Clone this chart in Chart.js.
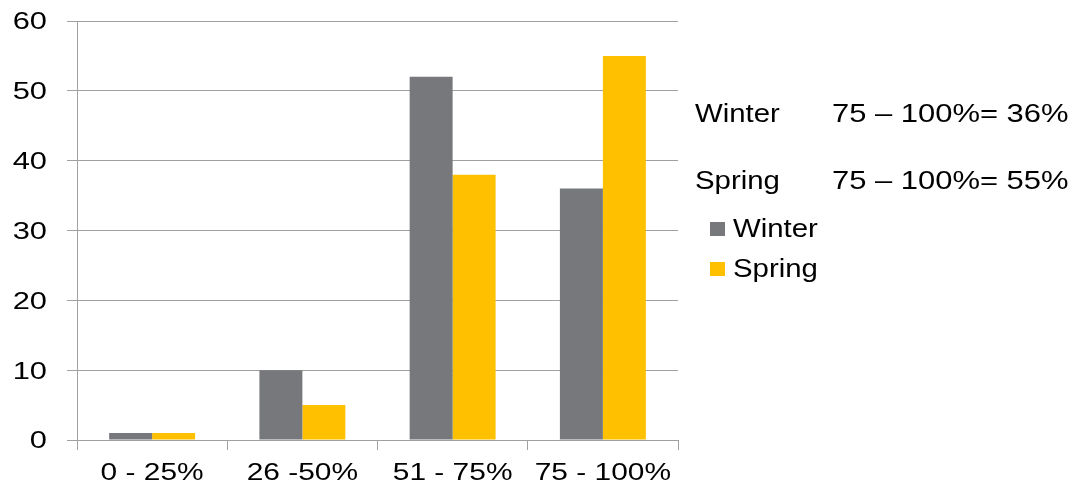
<!DOCTYPE html>
<html><head><meta charset="utf-8">
<script src="https://cdn.jsdelivr.net/npm/chart.js@4/dist/chart.umd.min.js"></script>
<style>html,body{margin:0;padding:0;background:#fff}#wrap{position:relative;width:1085px;height:487px}</style>
</head><body><div id="wrap"><canvas id="c"></canvas></div>
<script>
const categories = ['0 - 25%', '26 -50%', '51 - 75%', '75 - 100%'];
const winterValues = [1, 10, 52, 36];
const springValues = [1, 5, 38, 55];
const seriesNames = ['Winter', 'Spring'];
const seriesColors = ['#77787b', '#ffc000'];
const noteLabels = ['Winter', 'Spring'];
const noteTexts = ['75 \u2013 100%= 36%', '75 \u2013 100%= 55%'];
const yMin = 0, yMax = 60, yStep = 10;

const canvas = document.getElementById('c');
const ctx0 = canvas.getContext('2d');
const origFill = ctx0.fillText.bind(ctx0);
ctx0.fillText = function (text, x, y) {
  let sx = ctx0.__sx, dy = 0;
  if (!sx) {
    const numeric = /^\d+$/.test(String(text));
    sx = numeric ? 1.34 : 1.30;
    dy = numeric ? 2 : 0;
  }
  ctx0.save();
  ctx0.translate(x, y + dy);
  ctx0.scale(sx, 1);
  origFill(text, 0, 0);
  ctx0.restore();
};

const gridColor = '#a0a0a0';
const fontFamily = '"Liberation Sans", Arial, sans-serif';

const notesPlugin = {
  id: 'notes',
  afterDraw(chart) {
    const ctx = chart.ctx;
    ctx.save();
    ctx.font = '26px ' + fontFamily;
    ctx.textAlign = 'left';
    ctx.textBaseline = 'alphabetic';
    const noteY = [122, 189];
    noteLabels.forEach((l, i) => {
      ctx.fillStyle = '#000';
      ctx.__sx = 1.13;
      ctx.fillText(l, 695, noteY[i]);
      ctx.__sx = 1.19;
      ctx.fillText(noteTexts[i], 832, noteY[i]);
    });
    const legY = [222, 262];
    chart.data.datasets.forEach((ds, i) => {
      ctx.fillStyle = ds.backgroundColor;
      ctx.fillRect(710, legY[i], 15, 14);
      ctx.fillStyle = '#000';
      ctx.__sx = 1.13;
      ctx.fillText(ds.label, 733, legY[i] + 15);
    });
    ctx.__sx = null;
    ctx.restore();
  }
};

new Chart(canvas, {
  type: 'bar',
  data: {
    labels: categories,
    datasets: [
      { label: seriesNames[0], data: winterValues, backgroundColor: seriesColors[0] },
      { label: seriesNames[1], data: springValues, backgroundColor: seriesColors[1] }
    ]
  },
  options: {
    responsive: true,
    maintainAspectRatio: false,
    animation: false,
    layout: { padding: { top: 21, right: 407, left: 0, bottom: 0 } },
    datasets: { bar: { categoryPercentage: 0.572, barPercentage: 1 } },
    plugins: { legend: { display: false }, tooltip: { enabled: false } },
    scales: {
      x: {
        afterFit(s) { s.height = 47; s.paddingLeft = 0; s.paddingRight = 0; },
        grid: { display: true, drawOnChartArea: false, drawTicks: true, tickLength: 10, color: gridColor, offset: true },
        border: { display: true, color: gridColor },
        ticks: { color: '#000', padding: 10, font: { family: fontFamily, size: 23 }, maxRotation: 0 }
      },
      y: {
        min: yMin, max: yMax,
        afterFit(s) { s.width = 77; s.paddingTop = 0; s.paddingBottom = 0; },
        grid: { color: gridColor, drawTicks: true, tickLength: 10, tickColor: gridColor },
        border: { display: true, color: gridColor },
        ticks: { stepSize: yStep, color: '#000', padding: 20, font: { family: fontFamily, size: 23 } }
      }
    }
  },
  plugins: [notesPlugin]
});
</script></body></html>
